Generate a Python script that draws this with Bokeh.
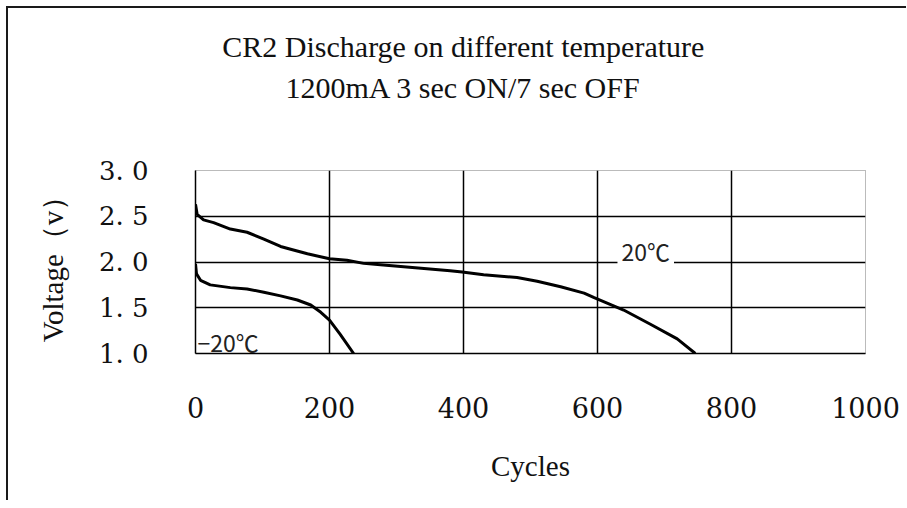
from bokeh.plotting import figure
from bokeh.models import Range1d, FixedTicker, Label
from bokeh.layouts import column
from bokeh.embed import file_html
from bokeh.resources import INLINE

# ---- data ----
cycles_20 = [0, 2.5, 12, 27, 52, 77, 102, 127, 142, 167, 200, 226, 251, 276,
             380, 398, 430, 480, 510, 545, 580, 595, 639, 679, 719, 746]
volt_20 = [2.63, 2.52, 2.46, 2.43, 2.36, 2.325, 2.25, 2.17, 2.14, 2.09, 2.035,
           2.02, 1.985, 1.97, 1.905, 1.89, 1.86, 1.83, 1.79, 1.73, 1.66, 1.61,
           1.475, 1.32, 1.16, 1.0]

cycles_m20 = [0, 1.5, 7.5, 22, 52, 77, 102, 127, 152, 172, 187, 200, 216, 236]
volt_m20 = [1.98, 1.87, 1.80, 1.75, 1.72, 1.705, 1.67, 1.63, 1.585, 1.53, 1.45,
            1.365, 1.21, 1.0]

x_ticks = [0, 200, 400, 600, 800, 1000]
y_ticks = [1.0, 1.5, 2.0, 2.5, 3.0]
y_tick_labels = ["1. 0", "1. 5", "2. 0", "2. 5", "3. 0"]
title_lines = ["CR2 Discharge on different temperature", "1200mA 3 sec ON/7 sec OFF"]
x_label = "Cycles"
y_label = "Voltage\uff08v\uff09"
label_20 = "20\u2103"
label_m20 = "\u221220\u2103"

W = 898
HEAD_H = 120
serif = "Liberation Serif"
tick_font = "DejaVu Serif"

# ---- header with the two title lines ----
head = figure(width=W, height=HEAD_H, x_range=Range1d(0, W), y_range=Range1d(HEAD_H, 0),
              x_axis_location=None, y_axis_location=None, toolbar_location=None,
              output_backend="svg", min_border=0, title=None)
head.outline_line_color = None
head.grid.grid_line_color = None
head.background_fill_color = "white"
head.border_fill_color = "white"
for txt, base_y in zip(title_lines, [38, 79]):
    head.add_layout(Label(x=359, y=base_y, text=txt, text_align="center",
                          text_baseline="alphabetic", text_font=serif,
                          text_font_size="30px", text_color="#111111"))

# ---- chart ----
p = figure(width=W, height=372, x_range=Range1d(0, 1000), y_range=Range1d(1, 3),
           output_backend="svg", toolbar_location=None, title=None,
           min_border_left=187, min_border_right=41, min_border_top=42,
           min_border_bottom=147)
p.background_fill_color = "white"
p.border_fill_color = "white"
p.outline_line_color = "#777777"
p.outline_line_dash = "1 1"
p.outline_line_width = 1

p.xaxis.ticker = FixedTicker(ticks=x_ticks)
p.yaxis.ticker = FixedTicker(ticks=y_ticks)
p.yaxis.major_label_overrides = {t: l for t, l in zip(y_ticks, y_tick_labels)}
for ax in (p.xaxis, p.yaxis):
    ax.axis_line_color = "black"
    ax.axis_line_width = 1.5
    ax.major_tick_in = 0
    ax.major_tick_out = 0
    ax.minor_tick_line_color = None
    ax.major_label_text_font = tick_font
    ax.major_label_text_color = "#111111"
    ax.axis_label_text_font = serif
    ax.axis_label_text_font_style = "normal"
    ax.axis_label_text_color = "#111111"
p.xaxis.major_label_text_font_size = "27px"
p.yaxis.major_label_text_font_size = "26px"
p.xaxis.major_label_standoff = 43
p.yaxis.major_label_standoff = 47

p.xaxis.axis_label = x_label
p.xaxis.axis_label_text_font_size = "29px"
p.xaxis.axis_label_standoff = 29
p.yaxis.axis_label = y_label
p.yaxis.axis_label_text_font_size = "29px"
p.yaxis.axis_label_standoff = 27

p.xgrid.ticker = FixedTicker(ticks=[200, 400, 600, 800])
p.ygrid.ticker = FixedTicker(ticks=[1.5, 2.0, 2.5])
for g in (p.xgrid, p.ygrid):
    g.grid_line_color = "black"
    g.grid_line_width = 1.5
    g.grid_line_alpha = 1.0

p.line(cycles_20, volt_20, line_color="black", line_width=3)
p.line(cycles_m20, volt_m20, line_color="black", line_width=3)

p.add_layout(Label(x=672, y=2.124, text=label_20, text_align="center",
                   text_baseline="middle", text_font="Noto Sans CJK JP",
                   text_font_size="23px", text_color="#222222",
                   background_fill_color="white", padding=4))
p.add_layout(Label(x=3, y=1.128, text=label_m20, text_align="left",
                   text_baseline="middle", text_font="Noto Sans CJK JP",
                   text_font_size="23px", text_color="#222222"))

page = column(head, p, spacing=0,
              styles={"margin-left": "6px", "margin-top": "6px",
                      "border-left": "2px solid #1a1a1a",
                      "border-top": "2px solid #1a1a1a"})

open("out.html", "w").write(file_html(page, INLINE))
